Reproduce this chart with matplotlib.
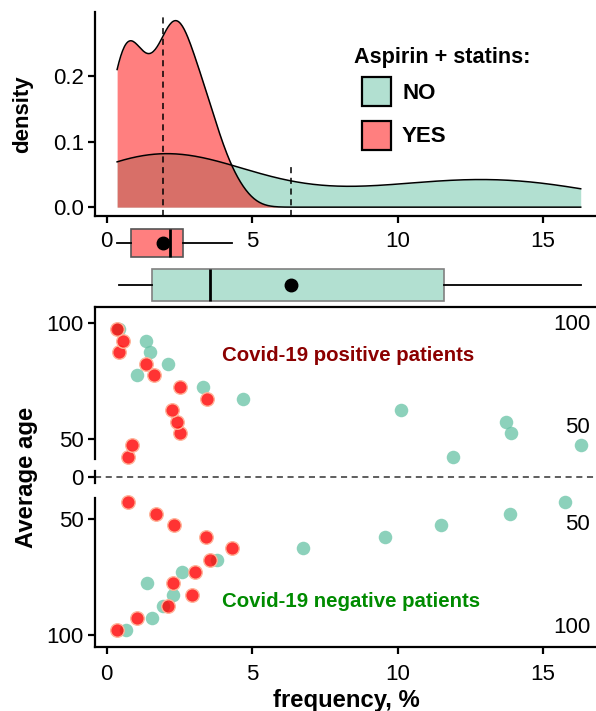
import numpy as np
import matplotlib
matplotlib.use('Agg')
import matplotlib.pyplot as plt
from matplotlib.patches import Patch

plt.rcParams['font.family'] = ['Liberation Sans', 'DejaVu Sans']

# ---------------- data ----------------
ages = [42.5, 47.5, 52.5, 57.5, 62.5, 67.5, 72.5, 77.5, 82.5, 87.5, 92.5, 97.5]
# frequency (%) per age group
pos_yes = [0.74, 0.88, 2.52, 2.41, 2.24, 3.44, 2.52, 1.63, 1.34, 0.42, 0.57, 0.36]
pos_no = [11.91, 16.29, 13.88, 13.73, 10.10, 4.67, 3.30, 1.03, 2.10, 1.49, 1.34, 0.43]
neg_yes = [0.72, 1.69, 2.33, 3.42, 4.30, 3.56, 3.04, 2.29, 2.93, 2.12, 1.05, 0.36]
neg_no = [15.75, 13.85, 11.50, 9.55, 6.75, 3.79, 2.58, 1.38, 2.29, 1.95, 1.57, 0.66]

group_labels = ['NO', 'YES']
x_ticks = [0, 5, 10, 15]
dens_ticks = [0.0, 0.1, 0.2]
age_tick_labels = ['100', '50', '0', '50', '100']

# ---------------- style ----------------
GREEN = '#66C2A5'
GREEN_FILL = (102/255, 194/255, 165/255, 0.5)
RED_FILL = (1.0, 0.0, 0.0, 0.5)
FS = 16
W, H = 596, 711
TOP_OFF = 33.9
BOT_OFF = 31.6

fig = plt.figure(figsize=(W/100, H/100), dpi=100)

def fx(px):
    return px / W

def fy(py):
    return 1 - py / H

xlim = (-0.4, 16.85)
AX_L, AX_R = 95, 597

yes_all = np.array(pos_yes + neg_yes)
no_all = np.array(pos_no + neg_no)


def kde(data, grid):
    d = np.asarray(data)
    n = d.size
    sd = d.std(ddof=1)
    q75, q25 = np.percentile(d, [75, 25])
    bw = 0.9 * min(sd, (q75 - q25) / 1.34) * n ** -0.2
    z = (grid[:, None] - d[None, :]) / bw
    return np.exp(-0.5 * z ** 2).sum(1) / (n * bw * np.sqrt(2 * np.pi))

allv = np.concatenate([yes_all, no_all])
grid = np.linspace(allv.min(), allv.max(), 512)

# ---------------- density panel ----------------
axd = fig.add_axes([fx(AX_L), fy(216), fx(AX_R) - fx(AX_L), fy(12) - fy(216)])
d_no = kde(no_all, grid)
d_yes = kde(yes_all, grid)
axd.fill_between(grid, 0, d_no, color=GREEN_FILL, lw=0)
axd.plot(grid, d_no, color='black', lw=1.1)
axd.fill_between(grid, 0, d_yes, color=RED_FILL, lw=0)
axd.plot(grid, d_yes, color='black', lw=1.1)
axd.vlines([yes_all.mean()], -0.0135, 0.29, colors='black', linestyles=(0, (4, 3)), lw=1.1)
axd.vlines([no_all.mean()], -0.0135, 0.068, colors='black', linestyles=(0, (4, 3)), lw=1.1)
axd.set_xlim(*xlim)
axd.set_ylim(-0.0135, 0.298)
axd.set_xticks(x_ticks)
axd.set_xticklabels([str(t) for t in x_ticks])
axd.set_yticks(dens_ticks)
axd.set_yticklabels(['%.1f' % t for t in dens_ticks])
for s in ['top', 'right']:
    axd.spines[s].set_visible(False)
for s in ['left', 'bottom']:
    axd.spines[s].set_linewidth(1.6)
axd.tick_params(axis='both', labelsize=FS, width=1.6, length=5, direction='out')
axd.tick_params(axis='x', pad=5.5)
axd.tick_params(axis='y', pad=3)
axd.set_ylabel('density', fontsize=FS, fontweight='bold', labelpad=14)
axd.patch.set_alpha(0)

# legend
fig.text(fx(354), fy(57), 'Aspirin + statins:', fontsize=15.6, fontweight='bold', va='center', ha='left')
handles = [Patch(facecolor=GREEN_FILL, edgecolor='black', lw=1.6),
           Patch(facecolor=RED_FILL, edgecolor='black', lw=1.6)]
fig.legend(handles, group_labels, loc='upper left', bbox_to_anchor=(fx(362), fy(77)),
           frameon=False, borderpad=0, borderaxespad=0, handlelength=1.3, handleheight=1.65,
           handletextpad=0.5, labelspacing=0.64, prop={'size': FS, 'weight': 'bold'})

# ---------------- boxplot panel ----------------
axb = fig.add_axes([fx(AX_L), fy(306), fx(AX_R) - fx(AX_L), fy(222) - fy(306)])
bp = axb.boxplot([no_all, yes_all], positions=[1, 2], orientation='horizontal', widths=[0.76, 0.69],
                 patch_artist=True, showmeans=True, showcaps=False, showfliers=False,
                 medianprops=dict(color='black', lw=2),
                 meanprops=dict(marker='o', markerfacecolor='black', markeredgecolor='black', markersize=9),
                 whiskerprops=dict(color='black', lw=1.3),
                 boxprops=dict(edgecolor='#808080', lw=1.2))
bp['boxes'][0].set_facecolor(GREEN_FILL)
bp['boxes'][1].set_facecolor(RED_FILL)
bp['boxes'][1].set_edgecolor('#555555')
axb.set_xlim(*xlim)
axb.set_ylim(0.5, 2.5)
axb.axis('off')

# ---------------- scatter panel ----------------
axs = fig.add_axes([fx(AX_L), fy(647), fx(AX_R) - fx(AX_L), fy(307) - fy(647)])
a = np.array(ages)
y_pos = a - TOP_OFF
y_neg = -(a - BOT_OFF)
axs.axhline(0, color='#333333', lw=1.1, ls=(0, (4, 3)))
ms = 95
axs.scatter(pos_no, y_pos, s=ms, color=GREEN, alpha=0.75, lw=0, zorder=3)
axs.scatter(neg_no, y_neg, s=ms, color=GREEN, alpha=0.75, lw=0, zorder=3)
axs.scatter(pos_yes, y_pos, s=ms, facecolor=(1, 0, 0, 0.8), edgecolor='#FFB49A', lw=1.0, zorder=4)
axs.scatter(neg_yes, y_neg, s=ms, facecolor=(1, 0, 0, 0.8), edgecolor='#FFB49A', lw=1.0, zorder=4)
axs.set_xlim(*xlim)
axs.set_ylim(-73.4, 73.1)
axs.set_xticks(x_ticks)
axs.set_xticklabels([str(t) for t in x_ticks])
ytk = [100 - TOP_OFF, 50 - TOP_OFF, 0, -(50 - BOT_OFF), -(100 - BOT_OFF)]
axs.set_yticks(ytk)
axs.set_yticklabels(age_tick_labels)
axs.spines['right'].set_visible(False)
axs.spines['left'].set_visible(False)
for s in ['top', 'bottom']:
    axs.spines[s].set_linewidth(1.6)
tr = axs.get_yaxis_transform()
for y0, y1 in [(7.6, 73.1), (2.5, -2.7), (-9.2, -73.4)]:
    axs.plot([0, 0], [y0, y1], transform=tr, color='black', lw=1.6, clip_on=False,
             solid_capstyle='projecting', zorder=5)
axs.tick_params(axis='both', labelsize=FS, width=1.6, length=5, direction='out')
axs.tick_params(axis='x', pad=7)
axs.tick_params(axis='y', pad=3)
axs.set_xlabel('frequency, %', fontsize=17.2, fontweight='bold', labelpad=3)
axs.set_ylabel('Average age', fontsize=17.2, fontweight='bold', labelpad=6)

axs.text(8.29, 52.0, 'Covid-19 positive patients', color='#8B0000', fontsize=14.7,
         fontweight='bold', ha='center', va='center')
axs.text(8.4, -53.8, 'Covid-19 negative patients', color='#008B00', fontsize=14.7,
         fontweight='bold', ha='center', va='center')
for yv, lab in [(65.4, '100'), (21.0, '50'), (-20.8, '50'), (-64.8, '100')]:
    axs.text(16.62, yv, lab, fontsize=FS, ha='right', va='center')

fig.savefig('out.png', dpi=100)
